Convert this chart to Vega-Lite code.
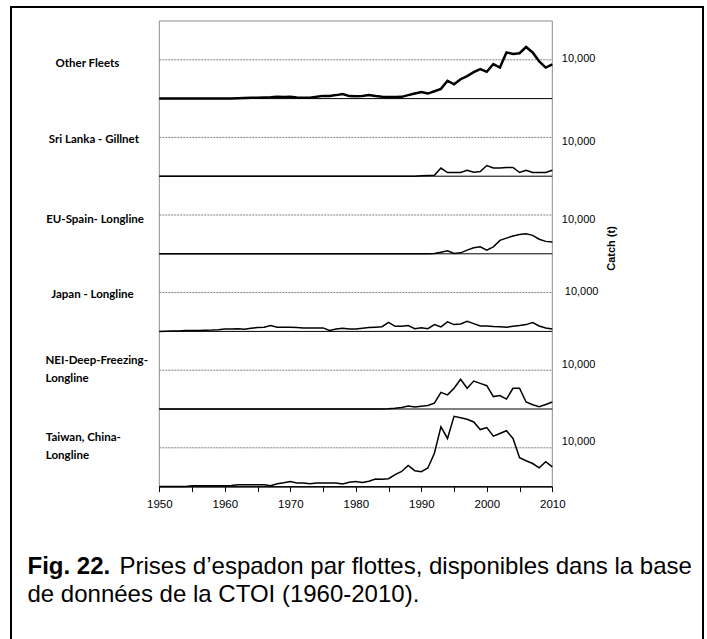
{
  "$schema": "https://vega.github.io/schema/vega-lite/v6.json",
  "width": 692,
  "height": 632,
  "autosize": {"type": "none"},
  "padding": {"left": 11, "top": 7, "right": 4, "bottom": 0},
  "background": "white",
  "view": {"stroke": "#000000", "strokeWidth": 2, "strokeDash": [1324, 692, 700]},
  "config": {
    "axis": {"labelFont": "Liberation Sans", "titleFont": "Liberation Sans", "labelColor": "#000", "titleColor": "#000", "grid": false, "titleLimit": 0}
  },
  "datasets": {
    "other": [
      {"year":1950,"catch":0},{"year":1951,"catch":0},{"year":1952,"catch":0},{"year":1953,"catch":0},{"year":1954,"catch":0},{"year":1955,"catch":0},{"year":1956,"catch":0},{"year":1957,"catch":0},{"year":1958,"catch":0},{"year":1959,"catch":0},
      {"year":1960,"catch":50},{"year":1961,"catch":50},{"year":1962,"catch":100},{"year":1963,"catch":150},{"year":1964,"catch":200},{"year":1965,"catch":250},{"year":1966,"catch":300},{"year":1967,"catch":350},{"year":1968,"catch":500},{"year":1969,"catch":400},
      {"year":1970,"catch":450},{"year":1971,"catch":300},{"year":1972,"catch":250},{"year":1973,"catch":250},{"year":1974,"catch":450},{"year":1975,"catch":700},{"year":1976,"catch":700},{"year":1977,"catch":900},{"year":1978,"catch":1200},{"year":1979,"catch":650},
      {"year":1980,"catch":600},{"year":1981,"catch":650},{"year":1982,"catch":950},{"year":1983,"catch":650},{"year":1984,"catch":450},{"year":1985,"catch":400},{"year":1986,"catch":400},{"year":1987,"catch":450},{"year":1988,"catch":900},{"year":1989,"catch":1300},
      {"year":1990,"catch":1700},{"year":1991,"catch":1300},{"year":1992,"catch":1900},{"year":1993,"catch":2500},{"year":1994,"catch":4600},{"year":1995,"catch":3700},{"year":1996,"catch":5000},{"year":1997,"catch":5800},{"year":1998,"catch":6800},{"year":1999,"catch":7600},
      {"year":2000,"catch":6900},{"year":2001,"catch":8900},{"year":2002,"catch":8000},{"year":2003,"catch":11900},{"year":2004,"catch":11500},{"year":2005,"catch":11700},{"year":2006,"catch":13300},{"year":2007,"catch":11900},{"year":2008,"catch":9600},{"year":2009,"catch":8000},{"year":2010,"catch":8800}
    ],
    "srilanka": [
      {"year":1950,"catch":0},{"year":1960,"catch":0},{"year":1970,"catch":0},{"year":1980,"catch":0},{"year":1989,"catch":0},
      {"year":1990,"catch":100},{"year":1991,"catch":200},{"year":1992,"catch":250},{"year":1993,"catch":2100},{"year":1994,"catch":950},{"year":1995,"catch":950},{"year":1996,"catch":950},{"year":1997,"catch":1500},{"year":1998,"catch":1050},{"year":1999,"catch":1200},
      {"year":2000,"catch":2750},{"year":2001,"catch":2100},{"year":2002,"catch":2100},{"year":2003,"catch":2250},{"year":2004,"catch":2250},{"year":2005,"catch":950},{"year":2006,"catch":1550},{"year":2007,"catch":950},{"year":2008,"catch":950},{"year":2009,"catch":950},{"year":2010,"catch":1550}
    ],
    "spain": [
      {"year":1950,"catch":0},{"year":1960,"catch":0},{"year":1970,"catch":0},{"year":1980,"catch":0},{"year":1990,"catch":0},{"year":1991,"catch":0},
      {"year":1992,"catch":50},{"year":1993,"catch":400},{"year":1994,"catch":750},{"year":1995,"catch":80},{"year":1996,"catch":250},{"year":1997,"catch":950},{"year":1998,"catch":1550},{"year":1999,"catch":1800},
      {"year":2000,"catch":950},{"year":2001,"catch":1800},{"year":2002,"catch":3450},{"year":2003,"catch":4050},{"year":2004,"catch":4600},{"year":2005,"catch":5000},{"year":2006,"catch":5150},{"year":2007,"catch":4750},{"year":2008,"catch":3750},{"year":2009,"catch":3200},{"year":2010,"catch":3050}
    ],
    "japan": [
      {"year":1950,"catch":0},{"year":1951,"catch":50},{"year":1952,"catch":100},{"year":1953,"catch":100},{"year":1954,"catch":200},{"year":1955,"catch":250},{"year":1956,"catch":250},{"year":1957,"catch":300},{"year":1958,"catch":350},{"year":1959,"catch":450},
      {"year":1960,"catch":600},{"year":1961,"catch":650},{"year":1962,"catch":700},{"year":1963,"catch":550},{"year":1964,"catch":800},{"year":1965,"catch":1000},{"year":1966,"catch":1100},{"year":1967,"catch":1500},{"year":1968,"catch":1050},{"year":1969,"catch":1050},
      {"year":1970,"catch":1050},{"year":1971,"catch":1000},{"year":1972,"catch":900},{"year":1973,"catch":900},{"year":1974,"catch":900},{"year":1975,"catch":900},{"year":1976,"catch":250},{"year":1977,"catch":600},{"year":1978,"catch":800},{"year":1979,"catch":650},
      {"year":1980,"catch":600},{"year":1981,"catch":800},{"year":1982,"catch":1000},{"year":1983,"catch":1100},{"year":1984,"catch":1200},{"year":1985,"catch":2300},{"year":1986,"catch":1300},{"year":1987,"catch":1300},{"year":1988,"catch":1500},{"year":1989,"catch":700},
      {"year":1990,"catch":950},{"year":1991,"catch":700},{"year":1992,"catch":1750},{"year":1993,"catch":1150},{"year":1994,"catch":2450},{"year":1995,"catch":1750},{"year":1996,"catch":1900},{"year":1997,"catch":2600},{"year":1998,"catch":2000},{"year":1999,"catch":1400},
      {"year":2000,"catch":1400},{"year":2001,"catch":1250},{"year":2002,"catch":1200},{"year":2003,"catch":1050},{"year":2004,"catch":1300},{"year":2005,"catch":1500},{"year":2006,"catch":1750},{"year":2007,"catch":2300},{"year":2008,"catch":1400},{"year":2009,"catch":900},{"year":2010,"catch":600}
    ],
    "nei": [
      {"year":1950,"catch":0},{"year":1960,"catch":0},{"year":1970,"catch":0},{"year":1980,"catch":0},{"year":1984,"catch":0},
      {"year":1985,"catch":50},{"year":1986,"catch":200},{"year":1987,"catch":400},{"year":1988,"catch":750},{"year":1989,"catch":500},
      {"year":1990,"catch":700},{"year":1991,"catch":900},{"year":1992,"catch":1500},{"year":1993,"catch":4300},{"year":1994,"catch":3650},{"year":1995,"catch":5350},{"year":1996,"catch":7650},{"year":1997,"catch":5350},{"year":1998,"catch":7200},{"year":1999,"catch":6600},
      {"year":2000,"catch":6000},{"year":2001,"catch":3200},{"year":2002,"catch":3450},{"year":2003,"catch":2550},{"year":2004,"catch":5350},{"year":2005,"catch":5350},{"year":2006,"catch":1800},{"year":2007,"catch":1100},{"year":2008,"catch":600},{"year":2009,"catch":1150},{"year":2010,"catch":1800}
    ],
    "taiwan": [
      {"year":1950,"catch":0},{"year":1951,"catch":0},{"year":1952,"catch":50},{"year":1953,"catch":50},{"year":1954,"catch":50},{"year":1955,"catch":250},{"year":1956,"catch":250},{"year":1957,"catch":250},{"year":1958,"catch":250},{"year":1959,"catch":250},
      {"year":1960,"catch":250},{"year":1961,"catch":300},{"year":1962,"catch":500},{"year":1963,"catch":500},{"year":1964,"catch":500},{"year":1965,"catch":500},{"year":1966,"catch":500},{"year":1967,"catch":250},{"year":1968,"catch":750},{"year":1969,"catch":1000},
      {"year":1970,"catch":1300},{"year":1971,"catch":950},{"year":1972,"catch":950},{"year":1973,"catch":750},{"year":1974,"catch":950},{"year":1975,"catch":950},{"year":1976,"catch":950},{"year":1977,"catch":950},{"year":1978,"catch":700},{"year":1979,"catch":1100},
      {"year":1980,"catch":1300},{"year":1981,"catch":1050},{"year":1982,"catch":1400},{"year":1983,"catch":1950},{"year":1984,"catch":1900},{"year":1985,"catch":2050},{"year":1986,"catch":3100},{"year":1987,"catch":3900},{"year":1988,"catch":5450},{"year":1989,"catch":4100},
      {"year":1990,"catch":3850},{"year":1991,"catch":4800},{"year":1992,"catch":8600},{"year":1993,"catch":15400},{"year":1994,"catch":12400},{"year":1995,"catch":18100},{"year":1996,"catch":17750},{"year":1997,"catch":17350},{"year":1998,"catch":16650},{"year":1999,"catch":14700},
      {"year":2000,"catch":15200},{"year":2001,"catch":13000},{"year":2002,"catch":13700},{"year":2003,"catch":14400},{"year":2004,"catch":12400},{"year":2005,"catch":7450},{"year":2006,"catch":6650},{"year":2007,"catch":5950},{"year":2008,"catch":4850},{"year":2009,"catch":6400},{"year":2010,"catch":5100}
    ]
  },
  "layer": [
    {
      "layer": [
        {"data": {"values": [{}]}, "mark": {"type": "rule", "color": "#8c8c8c", "strokeWidth": 1},
         "encoding": {"x": {"datum": 1950, "scale": {"domain": [1950, 2010], "range": [148.3, 541.3], "nice": false, "zero": false}},
                      "y": {"datum": 0, "scale": {"domain": [0, 20000], "range": [479.6, 402.0], "nice": false, "zero": false},
                            "axis": {"orient": "left", "offset": 0, "domain": false, "ticks": false, "labels": false, "grid": false, "title": ["Taiwan, China-", "Longline"], "titleFont": "Lato", "titleFontWeight": "bold", "titleFontSize": 11.5, "titleAngle": 0, "titleAlign": "left", "titleBaseline": "middle", "titleLineHeight": 18, "titleX": 34.3, "titleY": 430}},
                      "y2": {"datum": 20000}}},
        {"data": {"values": [{}]}, "mark": {"type": "rule", "color": "#8c8c8c", "strokeWidth": 1},
         "encoding": {"x": {"datum": 2010, "scale": {"domain": [1950, 2010], "range": [148.3, 541.3], "nice": false, "zero": false}},
                      "y": {"datum": 0, "scale": {"domain": [0, 20000], "range": [479.6, 402.0], "nice": false, "zero": false},
                            "axis": {"orient": "left", "offset": 0, "domain": false, "ticks": false, "labels": false, "grid": false, "title": "de données de la CTOI (1960-2010).", "titleFontSize": 24, "titleFontWeight": "normal", "titleAngle": 0, "titleAlign": "left", "titleBaseline": "alphabetic", "titleX": 16, "titleY": 594}},
                      "y2": {"datum": 20000}}},
        {"data": {"values": [{}]}, "mark": {"type": "rule", "color": "#7f7f7f", "strokeWidth": 1, "strokeDash": [2, 1]},
         "encoding": {"x": {"datum": 1950, "scale": {"domain": [1950, 2010], "range": [148.3, 541.3], "nice": false, "zero": false}},
                      "x2": {"datum": 2010},
                      "y": {"datum": 10000, "scale": {"domain": [0, 20000], "range": [479.6, 402.0], "nice": false, "zero": false},
                            "axis": {"orient": "left", "offset": 0, "domain": false, "ticks": false, "labels": false, "grid": false, "title": "Fig. 22.", "titleFontSize": 24, "titleFontWeight": "bold", "titleAngle": 0, "titleAlign": "left", "titleBaseline": "alphabetic", "titleX": 16, "titleY": 566}}}},
        {"data": {"values": [{}]}, "mark": {"type": "rule", "color": "#000", "strokeWidth": 1},
         "encoding": {"x": {"datum": 1950, "scale": {"domain": [1950, 2010], "range": [148.3, 541.3], "nice": false, "zero": false}},
                      "x2": {"datum": 2010},
                      "y": {"datum": 0, "scale": {"domain": [0, 20000], "range": [479.6, 402.0], "nice": false, "zero": false},
                            "axis": {"orient": "left", "offset": 0, "domain": false, "ticks": false, "labels": false, "grid": false, "title": "Prises d’espadon par flottes, disponibles dans la base", "titleFontSize": 24, "titleFontWeight": "normal", "titleAngle": 0, "titleAlign": "left", "titleBaseline": "alphabetic", "titleX": 108, "titleY": 566}}}},
        {"data": {"name": "taiwan"}, "mark": {"type": "line", "color": "#000", "strokeWidth": 1.5},
         "encoding": {"x": {"field": "year", "type": "quantitative", "scale": {"domain": [1950, 2010], "range": [148.3, 541.3], "nice": false, "zero": false},
                            "axis": {"orient": "bottom", "offset": -152.4, "values": [1950,1955,1960,1965,1970,1975,1980,1985,1990,1995,2000,2005,2010], "format": "d", "labelExpr": "datum.value % 10 === 0 ? datum.label : ''", "domain": true, "domainColor": "#000", "domainWidth": 1, "ticks": true, "tickColor": "#000", "tickSize": 5, "labelFontSize": 11.5, "labelColor": "#000", "labelPadding": 7, "labelFlush": false, "labelOverlap": false, "labelBound": false, "grid": false, "title": null}},
                      "y": {"field": "catch", "type": "quantitative", "scale": {"domain": [0, 20000], "range": [479.6, 402.0], "nice": false, "zero": false},
                            "axis": {"orient": "right", "offset": -150.7, "values": [10000], "format": ",", "domain": false, "ticks": false, "grid": false, "labelPadding": 9, "labelOffset": -6, "labelFontSize": 11, "labelColor": "#000", "title": null}}}}
      ],
      "resolve": {"axis": {"y": "independent"}}
    },
    {
      "layer": [
        {"data": {"values": [{}]}, "mark": {"type": "rule", "color": "#8c8c8c", "strokeWidth": 1},
         "encoding": {"x": {"datum": 1950, "scale": {"domain": [1950, 2010], "range": [148.3, 541.3], "nice": false, "zero": false}},
                      "y": {"datum": 0, "scale": {"domain": [0, 20000], "range": [402.0, 324.4], "nice": false, "zero": false},
                            "axis": {"orient": "left", "offset": 0, "domain": false, "ticks": false, "labels": false, "grid": false, "title": ["NEI-Deep-Freezing-", "Longline"], "titleFont": "Lato", "titleFontWeight": "bold", "titleFontSize": 11.5, "titleAngle": 0, "titleAlign": "left", "titleBaseline": "middle", "titleLineHeight": 18, "titleX": 34, "titleY": 353}},
                      "y2": {"datum": 20000}}},
        {"data": {"values": [{}]}, "mark": {"type": "rule", "color": "#8c8c8c", "strokeWidth": 1},
         "encoding": {"x": {"datum": 2010, "scale": {"domain": [1950, 2010], "range": [148.3, 541.3], "nice": false, "zero": false}},
                      "y": {"datum": 0, "scale": {"domain": [0, 20000], "range": [402.0, 324.4], "nice": false, "zero": false}, "axis": null},
                      "y2": {"datum": 20000}}},
        {"data": {"values": [{}]}, "mark": {"type": "rule", "color": "#7f7f7f", "strokeWidth": 1, "strokeDash": [2, 1]},
         "encoding": {"x": {"datum": 1950, "scale": {"domain": [1950, 2010], "range": [148.3, 541.3], "nice": false, "zero": false}},
                      "x2": {"datum": 2010},
                      "y": {"datum": 10000, "scale": {"domain": [0, 20000], "range": [402.0, 324.4], "nice": false, "zero": false}, "axis": null}}},
        {"data": {"values": [{}]}, "mark": {"type": "rule", "color": "#000", "strokeWidth": 1},
         "encoding": {"x": {"datum": 1950, "scale": {"domain": [1950, 2010], "range": [148.3, 541.3], "nice": false, "zero": false}},
                      "x2": {"datum": 2010},
                      "y": {"datum": 0, "scale": {"domain": [0, 20000], "range": [402.0, 324.4], "nice": false, "zero": false}, "axis": null}}},
        {"data": {"name": "nei"}, "mark": {"type": "line", "color": "#000", "strokeWidth": 1.5},
         "encoding": {"x": {"field": "year", "type": "quantitative", "scale": {"domain": [1950, 2010], "range": [148.3, 541.3], "nice": false, "zero": false}},
                      "y": {"field": "catch", "type": "quantitative", "scale": {"domain": [0, 20000], "range": [402.0, 324.4], "nice": false, "zero": false},
                            "axis": {"orient": "right", "offset": -150.7, "values": [10000], "format": ",", "domain": false, "ticks": false, "grid": false, "labelPadding": 9, "labelOffset": -6, "labelFontSize": 11, "labelColor": "#000", "title": null}}}}
      ],
      "resolve": {"axis": {"y": "independent"}}
    },
    {
      "layer": [
        {"data": {"values": [{}]}, "mark": {"type": "rule", "color": "#8c8c8c", "strokeWidth": 1},
         "encoding": {"x": {"datum": 1950, "scale": {"domain": [1950, 2010], "range": [148.3, 541.3], "nice": false, "zero": false}},
                      "y": {"datum": 0, "scale": {"domain": [0, 20000], "range": [324.4, 246.8], "nice": false, "zero": false},
                            "axis": {"orient": "left", "offset": 0, "domain": false, "ticks": false, "labels": false, "grid": false, "title": "Japan - Longline", "titleFont": "Lato", "titleFontWeight": "bold", "titleFontSize": 11.5, "titleAngle": 0, "titleAlign": "left", "titleBaseline": "middle", "titleX": 39.7, "titleY": 287}},
                      "y2": {"datum": 20000}}},
        {"data": {"values": [{}]}, "mark": {"type": "rule", "color": "#8c8c8c", "strokeWidth": 1},
         "encoding": {"x": {"datum": 2010, "scale": {"domain": [1950, 2010], "range": [148.3, 541.3], "nice": false, "zero": false}},
                      "y": {"datum": 0, "scale": {"domain": [0, 20000], "range": [324.4, 246.8], "nice": false, "zero": false}, "axis": null},
                      "y2": {"datum": 20000}}},
        {"data": {"values": [{}]}, "mark": {"type": "rule", "color": "#7f7f7f", "strokeWidth": 1, "strokeDash": [2, 1]},
         "encoding": {"x": {"datum": 1950, "scale": {"domain": [1950, 2010], "range": [148.3, 541.3], "nice": false, "zero": false}},
                      "x2": {"datum": 2010},
                      "y": {"datum": 10000, "scale": {"domain": [0, 20000], "range": [324.4, 246.8], "nice": false, "zero": false}, "axis": null}}},
        {"data": {"values": [{}]}, "mark": {"type": "rule", "color": "#000", "strokeWidth": 1},
         "encoding": {"x": {"datum": 1950, "scale": {"domain": [1950, 2010], "range": [148.3, 541.3], "nice": false, "zero": false}},
                      "x2": {"datum": 2010},
                      "y": {"datum": 0, "scale": {"domain": [0, 20000], "range": [324.4, 246.8], "nice": false, "zero": false}, "axis": null}}},
        {"data": {"name": "japan"}, "mark": {"type": "line", "color": "#000", "strokeWidth": 1.5},
         "encoding": {"x": {"field": "year", "type": "quantitative", "scale": {"domain": [1950, 2010], "range": [148.3, 541.3], "nice": false, "zero": false}},
                      "y": {"field": "catch", "type": "quantitative", "scale": {"domain": [0, 20000], "range": [324.4, 246.8], "nice": false, "zero": false},
                            "axis": {"orient": "right", "offset": -150.7, "values": [10000], "format": ",", "domain": false, "ticks": false, "grid": false, "labelPadding": 12, "labelOffset": -1, "labelFontSize": 11, "labelColor": "#000", "title": null}}}}
      ],
      "resolve": {"axis": {"y": "independent"}}
    },
    {
      "layer": [
        {"data": {"values": [{}]}, "mark": {"type": "rule", "color": "#8c8c8c", "strokeWidth": 1},
         "encoding": {"x": {"datum": 1950, "scale": {"domain": [1950, 2010], "range": [148.3, 541.3], "nice": false, "zero": false}},
                      "y": {"datum": 0, "scale": {"domain": [0, 20000], "range": [246.8, 169.2], "nice": false, "zero": false},
                            "axis": {"orient": "left", "offset": 0, "domain": false, "ticks": false, "labels": false, "grid": false, "title": "EU-Spain- Longline", "titleFont": "Lato", "titleFontWeight": "bold", "titleFontSize": 11.5, "titleAngle": 0, "titleAlign": "left", "titleBaseline": "middle", "titleX": 34.7, "titleY": 212}},
                      "y2": {"datum": 20000}}},
        {"data": {"values": [{}]}, "mark": {"type": "rule", "color": "#8c8c8c", "strokeWidth": 1},
         "encoding": {"x": {"datum": 2010, "scale": {"domain": [1950, 2010], "range": [148.3, 541.3], "nice": false, "zero": false}},
                      "y": {"datum": 0, "scale": {"domain": [0, 20000], "range": [246.8, 169.2], "nice": false, "zero": false}, "axis": null},
                      "y2": {"datum": 20000}}},
        {"data": {"values": [{}]}, "mark": {"type": "rule", "color": "#7f7f7f", "strokeWidth": 1, "strokeDash": [2, 1]},
         "encoding": {"x": {"datum": 1950, "scale": {"domain": [1950, 2010], "range": [148.3, 541.3], "nice": false, "zero": false}},
                      "x2": {"datum": 2010},
                      "y": {"datum": 10000, "scale": {"domain": [0, 20000], "range": [246.8, 169.2], "nice": false, "zero": false}, "axis": null}}},
        {"data": {"values": [{}]}, "mark": {"type": "rule", "color": "#000", "strokeWidth": 1},
         "encoding": {"x": {"datum": 1950, "scale": {"domain": [1950, 2010], "range": [148.3, 541.3], "nice": false, "zero": false}},
                      "x2": {"datum": 2010},
                      "y": {"datum": 0, "scale": {"domain": [0, 20000], "range": [246.8, 169.2], "nice": false, "zero": false}, "axis": null}}},
        {"data": {"name": "spain"}, "mark": {"type": "line", "color": "#000", "strokeWidth": 1.5},
         "encoding": {"x": {"field": "year", "type": "quantitative", "scale": {"domain": [1950, 2010], "range": [148.3, 541.3], "nice": false, "zero": false}},
                      "y": {"field": "catch", "type": "quantitative", "scale": {"domain": [0, 20000], "range": [246.8, 169.2], "nice": false, "zero": false},
                            "axis": {"orient": "right", "offset": -150.7, "values": [10000], "format": ",", "domain": false, "ticks": false, "grid": false, "labelPadding": 9, "labelOffset": 4, "labelFontSize": 11, "labelColor": "#000",
                                     "title": "Catch (t)", "titleFontSize": 11, "titleFontWeight": "bold", "titleAngle": 270, "titleAlign": "center", "titleBaseline": "middle", "titleX": 58.7, "titleY": 241}}}}
      ],
      "resolve": {"axis": {"y": "independent"}}
    },
    {
      "layer": [
        {"data": {"values": [{}]}, "mark": {"type": "rule", "color": "#8c8c8c", "strokeWidth": 1},
         "encoding": {"x": {"datum": 1950, "scale": {"domain": [1950, 2010], "range": [148.3, 541.3], "nice": false, "zero": false}},
                      "y": {"datum": 0, "scale": {"domain": [0, 20000], "range": [169.2, 91.6], "nice": false, "zero": false},
                            "axis": {"orient": "left", "offset": 0, "domain": false, "ticks": false, "labels": false, "grid": false, "title": "Sri Lanka - Gillnet", "titleFont": "Lato", "titleFontWeight": "bold", "titleFontSize": 11.5, "titleAngle": 0, "titleAlign": "left", "titleBaseline": "middle", "titleX": 37.3, "titleY": 132}},
                      "y2": {"datum": 20000}}},
        {"data": {"values": [{}]}, "mark": {"type": "rule", "color": "#8c8c8c", "strokeWidth": 1},
         "encoding": {"x": {"datum": 2010, "scale": {"domain": [1950, 2010], "range": [148.3, 541.3], "nice": false, "zero": false}},
                      "y": {"datum": 0, "scale": {"domain": [0, 20000], "range": [169.2, 91.6], "nice": false, "zero": false}, "axis": null},
                      "y2": {"datum": 20000}}},
        {"data": {"values": [{}]}, "mark": {"type": "rule", "color": "#7f7f7f", "strokeWidth": 1, "strokeDash": [2, 1]},
         "encoding": {"x": {"datum": 1950, "scale": {"domain": [1950, 2010], "range": [148.3, 541.3], "nice": false, "zero": false}},
                      "x2": {"datum": 2010},
                      "y": {"datum": 10000, "scale": {"domain": [0, 20000], "range": [169.2, 91.6], "nice": false, "zero": false}, "axis": null}}},
        {"data": {"values": [{}]}, "mark": {"type": "rule", "color": "#000", "strokeWidth": 1},
         "encoding": {"x": {"datum": 1950, "scale": {"domain": [1950, 2010], "range": [148.3, 541.3], "nice": false, "zero": false}},
                      "x2": {"datum": 2010},
                      "y": {"datum": 0, "scale": {"domain": [0, 20000], "range": [169.2, 91.6], "nice": false, "zero": false}, "axis": null}}},
        {"data": {"name": "srilanka"}, "mark": {"type": "line", "color": "#000", "strokeWidth": 1.5},
         "encoding": {"x": {"field": "year", "type": "quantitative", "scale": {"domain": [1950, 2010], "range": [148.3, 541.3], "nice": false, "zero": false}},
                      "y": {"field": "catch", "type": "quantitative", "scale": {"domain": [0, 20000], "range": [169.2, 91.6], "nice": false, "zero": false},
                            "axis": {"orient": "right", "offset": -150.7, "values": [10000], "format": ",", "domain": false, "ticks": false, "grid": false, "labelPadding": 9, "labelOffset": 4, "labelFontSize": 11, "labelColor": "#000", "title": null}}}}
      ],
      "resolve": {"axis": {"y": "independent"}}
    },
    {
      "layer": [
        {"data": {"values": [{}]}, "mark": {"type": "rule", "color": "#8c8c8c", "strokeWidth": 1},
         "encoding": {"x": {"datum": 1950, "scale": {"domain": [1950, 2010], "range": [148.3, 541.3], "nice": false, "zero": false}},
                      "y": {"datum": 0, "scale": {"domain": [0, 20000], "range": [91.6, 14.0], "nice": false, "zero": false},
                            "axis": {"orient": "left", "offset": 0, "domain": false, "ticks": false, "labels": false, "grid": false, "title": "Other Fleets", "titleFont": "Lato", "titleFontWeight": "bold", "titleFontSize": 11.5, "titleAngle": 0, "titleAlign": "left", "titleBaseline": "middle", "titleX": 44, "titleY": 56}},
                      "y2": {"datum": 20000}}},
        {"data": {"values": [{}]}, "mark": {"type": "rule", "color": "#8c8c8c", "strokeWidth": 1},
         "encoding": {"x": {"datum": 2010, "scale": {"domain": [1950, 2010], "range": [148.3, 541.3], "nice": false, "zero": false}},
                      "y": {"datum": 0, "scale": {"domain": [0, 20000], "range": [91.6, 14.0], "nice": false, "zero": false}, "axis": null},
                      "y2": {"datum": 20000}}},
        {"data": {"values": [{}]}, "mark": {"type": "rule", "color": "#8c8c8c", "strokeWidth": 1},
         "encoding": {"x": {"datum": 1950, "scale": {"domain": [1950, 2010], "range": [148.3, 541.3], "nice": false, "zero": false}},
                      "x2": {"datum": 2010},
                      "y": {"datum": 20000, "scale": {"domain": [0, 20000], "range": [91.6, 14.0], "nice": false, "zero": false}, "axis": null}}},
        {"data": {"values": [{}]}, "mark": {"type": "rule", "color": "#7f7f7f", "strokeWidth": 1, "strokeDash": [2, 1]},
         "encoding": {"x": {"datum": 1950, "scale": {"domain": [1950, 2010], "range": [148.3, 541.3], "nice": false, "zero": false}},
                      "x2": {"datum": 2010},
                      "y": {"datum": 10000, "scale": {"domain": [0, 20000], "range": [91.6, 14.0], "nice": false, "zero": false}, "axis": null}}},
        {"data": {"values": [{}]}, "mark": {"type": "rule", "color": "#000", "strokeWidth": 1},
         "encoding": {"x": {"datum": 1950, "scale": {"domain": [1950, 2010], "range": [148.3, 541.3], "nice": false, "zero": false}},
                      "x2": {"datum": 2010},
                      "y": {"datum": 0, "scale": {"domain": [0, 20000], "range": [91.6, 14.0], "nice": false, "zero": false}, "axis": null}}},
        {"data": {"name": "other"}, "mark": {"type": "line", "color": "#000", "strokeWidth": 2.5},
         "encoding": {"x": {"field": "year", "type": "quantitative", "scale": {"domain": [1950, 2010], "range": [148.3, 541.3], "nice": false, "zero": false}},
                      "y": {"field": "catch", "type": "quantitative", "scale": {"domain": [0, 20000], "range": [91.6, 14.0], "nice": false, "zero": false},
                            "axis": {"orient": "right", "offset": -150.7, "values": [10000], "format": ",", "domain": false, "ticks": false, "grid": false, "labelPadding": 9, "labelOffset": -1.5, "labelFontSize": 11, "labelColor": "#000", "title": null}}}}
      ],
      "resolve": {"axis": {"y": "independent"}}
    }
  ],
  "resolve": {"scale": {"y": "independent"}, "axis": {"y": "independent"}}
}
